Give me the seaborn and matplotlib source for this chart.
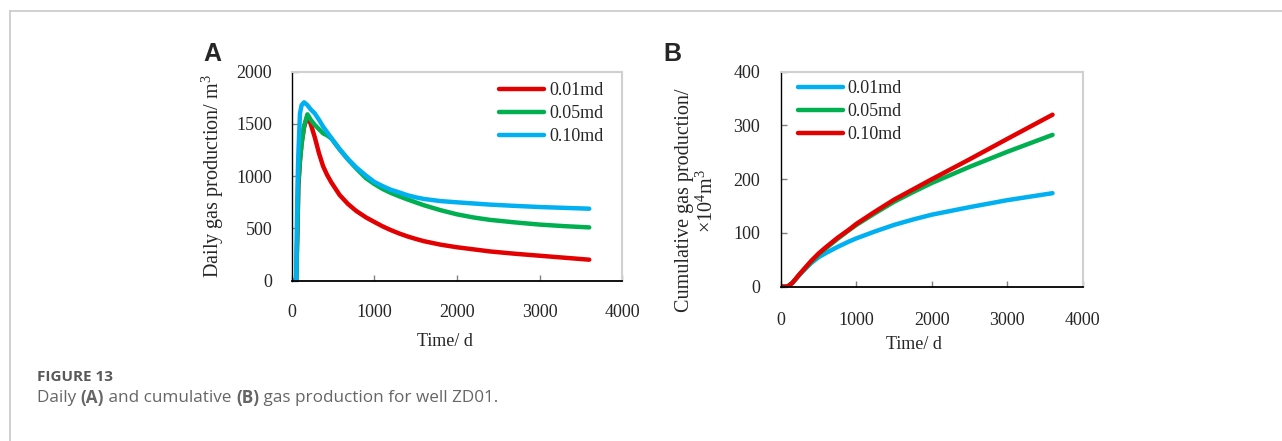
import numpy as np
import pandas as pd
import matplotlib
matplotlib.use("Agg")
import matplotlib.pyplot as plt
from matplotlib.lines import Line2D
import seaborn as sns

# ---------------- data ----------------
labels = ["0.01md", "0.05md", "0.10md"]

# Panel A: daily gas production (m3)
t_daily = [0, 55, 60, 70, 80, 100, 120, 150, 190, 230, 280, 330, 380, 430, 480,
           580, 680, 780, 900, 1000, 1100, 1200, 1300, 1400, 1500, 1600, 1800,
           2000, 2200, 2400, 2700, 3000, 3300, 3600]
daily_001 = [0, 0, 200, 500, 900, 1150, 1320, 1470, 1575, 1500, 1370, 1220, 1095, 1010, 940,
             820, 735, 668, 605, 562, 520, 484, 452, 424, 400, 378, 345,
             320, 300, 280, 258, 239, 220, 201]
daily_005 = [0, 0, 150, 500, 930, 1150, 1310, 1480, 1592, 1540, 1490, 1450, 1410, 1390, 1360,
             1255, 1160, 1075, 980, 925, 878, 840, 808, 778, 750, 722, 675,
             635, 605, 582, 558, 537, 522, 510]
daily_010 = [0, 0, 400, 900, 1200, 1600, 1680, 1707, 1680, 1640, 1600, 1540, 1474, 1420, 1365,
             1260, 1165, 1085, 1005, 945, 905, 870, 845, 818, 798, 782, 762,
             750, 739, 728, 716, 705, 697, 689]

# Panel B: cumulative gas production (x10^4 m3)
t_cum = [0, 80, 100, 150, 200, 250, 300, 400, 500, 600, 750, 900, 1000, 1250,
         1500, 1750, 2000, 2500, 3000, 3600]
cum_001 = [0, 0, 1.5, 7, 15, 23, 30, 44, 55, 63, 74, 84, 90, 103,
           115, 125, 134, 148, 161, 174]
cum_005 = [0, 0, 1.5, 7, 15, 23.5, 31, 46, 60, 72, 89, 105, 115, 137,
           158, 176, 193, 223, 251, 282.5]
cum_010 = [0, 0, 1.5, 7, 15.5, 24, 32, 48, 62, 74, 91, 106, 117, 140,
           162, 181, 200, 237, 275, 320]

xticks = [0, 1000, 2000, 3000, 4000]
yticks_a = [0, 500, 1000, 1500, 2000]
yticks_b = [0, 100, 200, 300, 400]

RED, GREEN, BLUE = "#e30000", "#00b050", "#00b0f0"

# ---------------- style ----------------
sns.set_style("white")
plt.rcParams["font.family"] = ["Liberation Serif", "DejaVu Serif"]
plt.rcParams["mathtext.fontset"] = "custom"
plt.rcParams["mathtext.rm"] = "Liberation Serif"
plt.rcParams["mathtext.it"] = "Liberation Serif:italic"

FS = 13
FSY = 14.5
LW = 3.2

dfa = pd.DataFrame({
    "t": t_daily * 3,
    "v": daily_001 + daily_005 + daily_010,
    "k": sum([[l] * len(t_daily) for l in labels], []),
})
dfb = pd.DataFrame({
    "t": t_cum * 3,
    "v": cum_001 + cum_005 + cum_010,
    "k": sum([[l] * len(t_cum) for l in labels], []),
})

fig = plt.figure(figsize=(12.82, 4.41), dpi=100)
W, H = 1282, 441

def axes_px(x0, y0, x1, y1):
    return fig.add_axes([x0 / W, 1 - y1 / H, (x1 - x0) / W, (y1 - y0) / H])

axA = axes_px(291.7, 71.7, 622.3, 280.7)
axB = axes_px(781, 71.7, 1082.7, 286.7)

sns.lineplot(data=dfa, x="t", y="v", hue="k", hue_order=labels,
             palette=[RED, GREEN, BLUE], lw=LW, ax=axA, estimator=None,
             solid_joinstyle="round", legend=False)
sns.lineplot(data=dfb, x="t", y="v", hue="k", hue_order=labels,
             palette=[BLUE, GREEN, RED], lw=LW, ax=axB, estimator=None,
             solid_joinstyle="round", legend=False)

for ax, yt, ylim in [(axA, yticks_a, 2000), (axB, yticks_b, 400)]:
    ax.set_xlim(0, 4000)
    ax.set_ylim(0, ylim)
    ax.set_xticks(xticks)
    ax.set_yticks(yt)
    for s in ["top", "right"]:
        ax.spines[s].set_color("#d0d0d0")
        ax.spines[s].set_linewidth(1.5)
    ax.spines["left"].set_color("black")
    ax.spines["bottom"].set_color("black")
    ax.spines["left"].set_linewidth(1.0)
    ax.spines["bottom"].set_linewidth(1.3)
    ax.tick_params(direction="in", length=4, width=1, color="#808080",
                   labelsize=FS, bottom=True, left=True, top=False, right=False)

axA.tick_params(axis="x", pad=17)
axA.tick_params(axis="y", pad=14)
axB.tick_params(axis="x", pad=18.5)
axB.tick_params(axis="y", pad=15)

axA.set_xlabel("Time/ d", fontsize=FS)
axA.set_ylabel("Daily gas production/ m$^3$", fontsize=FSY)
axA.xaxis.set_label_coords(0.465, -0.25)
axA.yaxis.set_label_coords(-0.2, 0.5)

axB.set_xlabel("Time/ d", fontsize=FS)
axB.set_ylabel("Cumulative gas production/\n×10$^4$m$^3$", fontsize=FSY,
               linespacing=1.15)
axB.xaxis.set_label_coords(0.44, -0.228)
axB.yaxis.set_label_coords(-0.21, 0.4)

# legends
hA = [Line2D([], [], color=c, lw=LW) for c in [RED, GREEN, BLUE]]
axA.legend(hA, labels, loc="upper right", bbox_to_anchor=(0.942, 0.95),
           frameon=False, fontsize=FS, handlelength=2.5, handletextpad=0.25,
           labelspacing=0.33, borderpad=0, borderaxespad=0)
hB = [Line2D([], [], color=c, lw=LW) for c in [BLUE, GREEN, RED]]
axB.legend(hB, labels, loc="upper left", bbox_to_anchor=(0.055, 0.96),
           frameon=False, fontsize=FS, handlelength=2.5, handletextpad=0.25,
           labelspacing=0.33, borderpad=0, borderaxespad=0)

# panel letters
fig.text(212 / W, 1 - 54 / H, "A", family="Liberation Sans", weight="bold",
         fontsize=18, ha="center", va="center")
fig.text(672 / W, 1 - 54 / H, "B", family="Liberation Sans", weight="bold",
         fontsize=18, ha="center", va="center")

# frame lines
fig.add_artist(Line2D([10 / W, 1.0], [1 - 11 / H, 1 - 11 / H], color="#c8c8c8", lw=1.2))
fig.add_artist(Line2D([10 / W, 10 / W], [1 - 11 / H, 0], color="#c8c8c8", lw=1.2))

# caption
fig.text(37 / W, 1 - 377 / H, "FIGURE 13", family="Open Sans", weight="bold",
         fontsize=11, color="#595959", ha="left", va="center")
cap_parts = [("Daily ", "normal"), ("(A)", "bold"), (" and cumulative ", "normal"),
             ("(B)", "bold"), (" gas production for well ZD01.", "normal")]
fig.canvas.draw()
renderer = fig.canvas.get_renderer()
x = 37
for txt, wt in cap_parts:
    t = fig.text(x / W, 1 - 398 / H, txt, family="Open Sans", fontsize=12.3,
                 weight=wt, color="#666666", ha="left", va="center")
    bb = t.get_window_extent(renderer=renderer)
    x += bb.width

fig.savefig("out.png", dpi=100)
